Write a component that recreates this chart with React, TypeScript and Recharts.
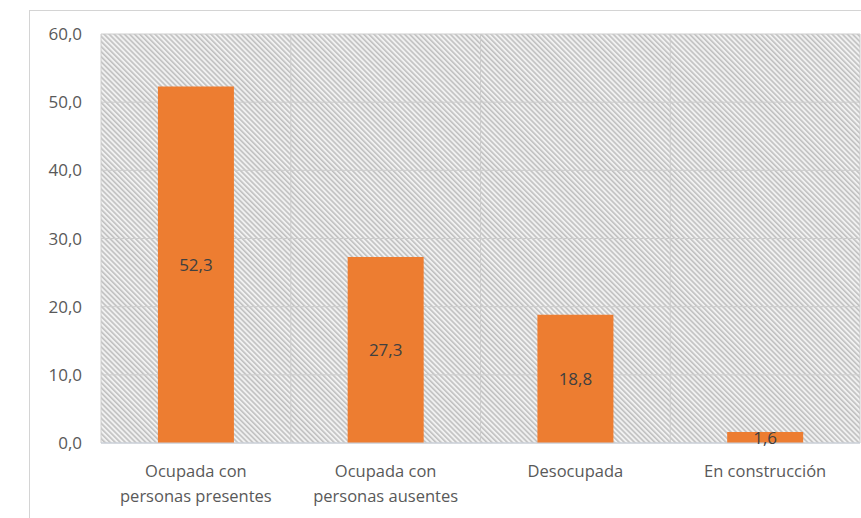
import { Bar, BarChart, CartesianGrid, LabelList, XAxis, YAxis } from 'recharts'

const categories = ['Ocupada con personas presentes', 'Ocupada con personas ausentes', 'Desocupada', 'En construcción']
const categoryLines = [['Ocupada con', 'personas presentes'], ['Ocupada con', 'personas ausentes'], ['Desocupada'], ['En construcción']]
const values = [52.3, 27.3, 18.8, 1.6]
const yTicks = [0, 10, 20, 30, 40, 50, 60]

const data = categories.map((name, i) => ({ name, lines: categoryLines[i], value: values[i] }))

const fmt = (v: number) => v.toFixed(1).replace('.', ',')
const font = '"Open Sans", "Noto Sans", sans-serif'

function CategoryTick({ x, y, payload, index }: any) {
  const lines = categoryLines[index] ?? [String(payload.value)]
  return (
    <text x={x} y={y} textAnchor="middle" fill="#595959" fontSize={16.5} fontFamily={font}>
      {lines.map((line, i) => (
        <tspan key={i} x={x} dy={i === 0 ? 26 : 25}>{line}</tspan>
      ))}
    </text>
  )
}

export default function App() {
  return (
    <div style={{ position: 'absolute', left: 0, top: 0, width: 861, height: 518, overflow: 'hidden', background: '#fff' }}>
      <svg width="0" height="0" style={{ position: 'absolute' }}>
        <defs>
          <pattern id="hatch" patternUnits="userSpaceOnUse" width="3.6" height="3.6" patternTransform="rotate(45)">
            <rect width="3.6" height="3.6" fill="#f1f1f1" />
            <line x1="0" y1="1" x2="3.6" y2="1" stroke="#bdbdbd" strokeWidth="1.5" />
          </pattern>
        </defs>
      </svg>
      <div style={{ position: 'absolute', left: 29, top: 10, width: 900, height: 540, border: '1px solid #d4d4d4' }} />
      <div style={{ position: 'absolute', left: 0, top: 0 }}>
        <BarChart width={861} height={518} data={data} margin={{ top: 34, right: 1, bottom: 0, left: 0 }} barCategoryGap="30%">
          <CartesianGrid
            fill="url(#hatch)"
            fillOpacity={1}
            stroke="#cccccc"
            verticalCoordinatesGenerator={({ offset }: any) =>
              [0, 1, 2, 3, 4].map((i) => offset.left + (i * offset.width) / 4)
            }
          />
          <XAxis dataKey="name" height={75} tickLine={false} axisLine={{ stroke: '#c8d0dc' }} interval={0} tick={<CategoryTick />} />
          <YAxis
            width={101}
            domain={[0, 60]}
            ticks={yTicks}
            tickFormatter={fmt}
            axisLine={false}
            tickLine={false}
            tickSize={0}
            tickMargin={19}
            tick={{ fill: '#595959', fontSize: 17, fontFamily: font }}
          />
          <Bar dataKey="value" fill="#ED7D31" isAnimationActive={false}>
            <LabelList dataKey="value" position="center" formatter={(v: any) => fmt(Number(v))} fill="#404040" fontSize={17} fontFamily={font} />
          </Bar>
        </BarChart>
      </div>
    </div>
  )
}
